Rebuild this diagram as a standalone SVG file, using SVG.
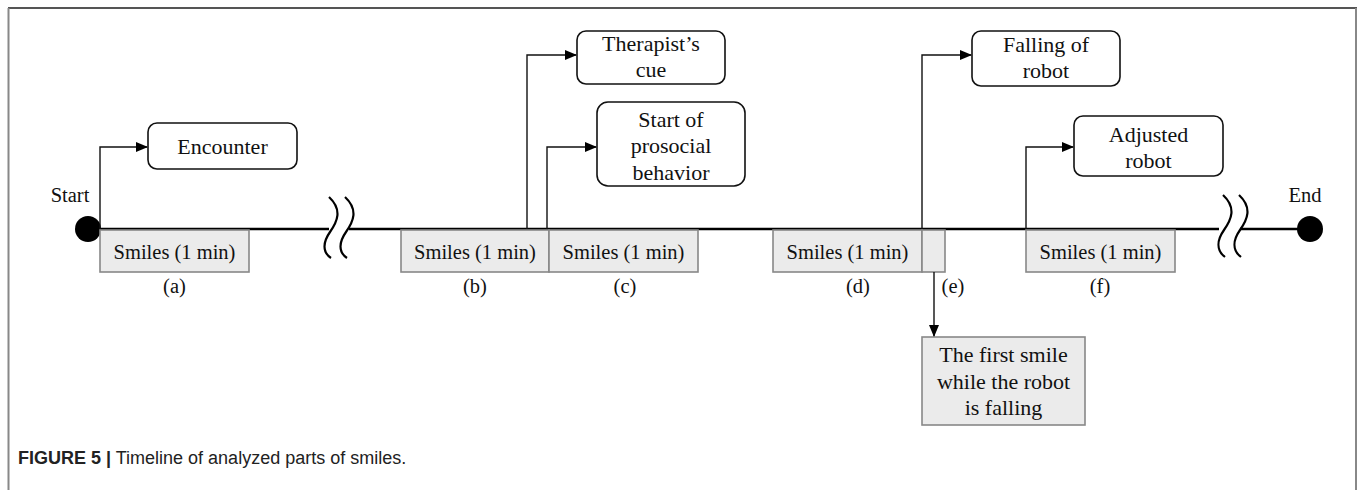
<svg xmlns="http://www.w3.org/2000/svg" width="1358" height="490" viewBox="0 0 1358 490">
<defs>
<marker id="ah" markerWidth="12" markerHeight="10" refX="11" refY="5" orient="auto" markerUnits="userSpaceOnUse">
<path d="M0,0 L12,5 L0,10 Z" fill="#000"/>
</marker>
<style>
.t{font-family:"Liberation Serif","Times New Roman",serif;fill:#111;text-anchor:middle}
.s20{font-size:20.5px}
.s22{font-size:22px}
.rb{fill:#fff;stroke:#111;stroke-width:1.6}
.gb{fill:#ebebeb;stroke:#888;stroke-width:1.6}
.cn{fill:none;stroke:#111;stroke-width:1.4}
.brk{fill:none;stroke:#000;stroke-width:2.2}
</style>
</defs>
<rect width="1358" height="490" fill="#fff"/>
<g id="frame">
<line x1="8" y1="8" x2="1357" y2="8" stroke="#555" stroke-width="2"/>
<line x1="8.5" y1="8" x2="8.5" y2="490" stroke="#888" stroke-width="2"/>
<line x1="1356" y1="8" x2="1356" y2="490" stroke="#888" stroke-width="2"/>
</g>
<g id="timeline">
<line x1="88" y1="229" x2="329" y2="229" stroke="#000" stroke-width="2.6"/>
<line x1="349" y1="229" x2="1219" y2="229" stroke="#000" stroke-width="2.6"/>
<line x1="1240" y1="229" x2="1310" y2="229" stroke="#000" stroke-width="2.6"/>
<path class="brk" d="M329,197 C343,210 337,222 330,232 C323,242 322,252 331,258"/>
<path class="brk" d="M345,197 C359,210 353,222 346,232 C339,242 338,252 347,258"/>
<path class="brk" d="M1223,195 C1237,208 1231,220 1224,230 C1217,240 1216,250 1225,257"/>
<path class="brk" d="M1239,195 C1253,208 1247,220 1240,230 C1233,240 1232,250 1241,257"/>
</g>
<g id="start">
<circle cx="88" cy="229" r="13" fill="#000"/>
<text class="t s20" x="70" y="202">Start</text>
</g>
<g id="end">
<circle cx="1310" cy="229" r="13" fill="#000"/>
<text class="t s20" x="1305" y="202">End</text>
</g>
<g id="seg-a">
<rect class="gb" x="100" y="230" width="149" height="42"/>
<text class="t s20" x="174.5" y="259">Smiles (1 min)</text>
<text class="t s20" x="174.5" y="293">(a)</text>
</g>
<g id="seg-b">
<rect class="gb" x="401" y="230" width="148" height="42"/>
<text class="t s20" x="475" y="259">Smiles (1 min)</text>
<text class="t s20" x="475" y="293">(b)</text>
</g>
<g id="seg-c">
<rect class="gb" x="549" y="230" width="149" height="42"/>
<text class="t s20" x="623.5" y="259">Smiles (1 min)</text>
<text class="t s20" x="625" y="293">(c)</text>
</g>
<g id="seg-d">
<rect class="gb" x="773" y="230" width="149" height="42"/>
<text class="t s20" x="847.5" y="259">Smiles (1 min)</text>
<text class="t s20" x="858" y="293">(d)</text>
</g>
<g id="seg-e">
<rect class="gb" x="922" y="230" width="23" height="42"/>
<text class="t s20" x="953" y="293">(e)</text>
</g>
<g id="seg-f">
<rect class="gb" x="1026" y="230" width="149" height="42"/>
<text class="t s20" x="1100.5" y="259">Smiles (1 min)</text>
<text class="t s20" x="1100" y="293">(f)</text>
</g>
<g id="encounter">
<rect class="rb" x="148" y="123" width="149" height="46" rx="9"/>
<text class="t s22" x="222.5" y="154">Encounter</text>
</g>
<g id="therapist-cue">
<rect class="rb" x="577" y="31" width="148" height="53" rx="9"/>
<text class="t s22" x="651" y="51">Therapist’s</text>
<text class="t s22" x="651" y="77">cue</text>
</g>
<g id="prosocial">
<rect class="rb" x="597" y="102" width="148" height="84" rx="11"/>
<text class="t s22" x="671" y="127">Start of</text>
<text class="t s22" x="671" y="153">prosocial</text>
<text class="t s22" x="671" y="180">behavior</text>
</g>
<g id="falling">
<rect class="rb" x="972" y="31" width="148" height="55" rx="9"/>
<text class="t s22" x="1046" y="52">Falling of</text>
<text class="t s22" x="1046" y="78">robot</text>
</g>
<g id="adjusted">
<rect class="rb" x="1074" y="116" width="149" height="60" rx="9"/>
<text class="t s22" x="1148.5" y="142">Adjusted</text>
<text class="t s22" x="1148.5" y="168">robot</text>
</g>
<g id="first-smile">
<rect class="gb" x="922" y="337" width="163" height="88"/>
<text class="t s22" x="1003.5" y="362">The first smile</text>
<text class="t s22" x="1003.5" y="389">while the robot</text>
<text class="t s22" x="1003.5" y="415">is falling</text>
</g>
<g id="connectors">
<path class="cn" d="M100,229 V147 H147" marker-end="url(#ah)"/>
<path class="cn" d="M527,229 V55 H576" marker-end="url(#ah)"/>
<path class="cn" d="M547,229 V147 H596" marker-end="url(#ah)"/>
<path class="cn" d="M922,229 V55 H971" marker-end="url(#ah)"/>
<path class="cn" d="M1026,229 V147 H1073" marker-end="url(#ah)"/>
<path class="cn" d="M934,272 V336" marker-end="url(#ah)"/>
</g>
<g id="caption">
<text x="18" y="464" font-family="'Liberation Sans',Arial,sans-serif" font-size="18" fill="#222"><tspan font-weight="bold">FIGURE 5 |</tspan> Timeline of analyzed parts of smiles.</text>
</g>
</svg>
